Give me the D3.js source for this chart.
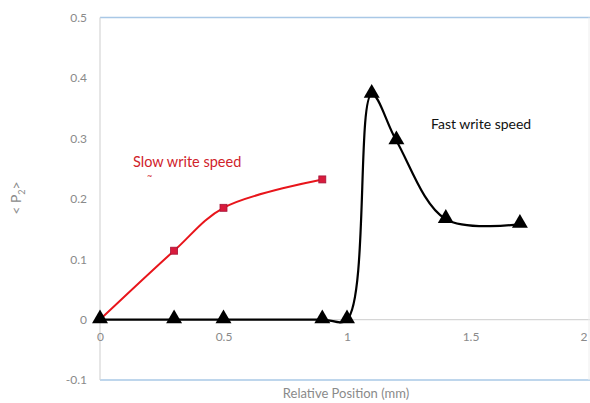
<!DOCTYPE html>
<html>
<head>
<meta charset="utf-8">
<script src="https://cdn.jsdelivr.net/npm/d3@7"></script>
<style>
  body { margin: 0; background: #fff; }
  text { font-family: Lato, "Open Sans", sans-serif; }
</style>
</head>
<body>
<div id="chart"></div>
<script>
// data
let slowX = [0, 0.3, 0.5, 0.9];
let slowY = [0, 0.114, 0.185, 0.232];
let fastX = [0, 0.3, 0.5, 0.9, 1.0, 1.1, 1.2, 1.4, 1.7];
let fastY = [0, 0, 0, 0, 0, 0.373, 0.296, 0.166, 0.158];
let yTicks = [0.5, 0.4, 0.3, 0.2, 0.1, 0, -0.1];
let xTicks = [0, 0.5, 1, 1.5, 2];

let svgWidth = 590;
let svgHeight = 403;

let svg = d3.select("#chart")
  .append("svg")
  .attr("width", svgWidth)
  .attr("height", svgHeight);

let x = d3.scaleLinear().domain([0, 2]).range([100, 594]);
let y = d3.scaleLinear().domain([-0.1, 0.5]).range([380, 17.5]);

// frame lines
svg.append("line")
  .attr("x1", 100).attr("x2", 590)
  .attr("y1", y(0.5)).attr("y2", y(0.5))
  .attr("stroke", "#a9c8e6").attr("stroke-width", 1.5);
svg.append("line")
  .attr("x1", 100).attr("x2", 590)
  .attr("y1", y(-0.1)).attr("y2", y(-0.1))
  .attr("stroke", "#a9c8e6").attr("stroke-width", 1.5);
svg.append("line")
  .attr("x1", 100).attr("x2", 590)
  .attr("y1", y(0)).attr("y2", y(0))
  .attr("stroke", "#d6d6d6").attr("stroke-width", 1.2);
svg.append("line")
  .attr("x1", 100).attr("x2", 100)
  .attr("y1", y(0.5)).attr("y2", y(-0.1))
  .attr("stroke", "#d6d6d6").attr("stroke-width", 1.2);
svg.append("line")
  .attr("x1", 589).attr("x2", 589)
  .attr("y1", y(0.5)).attr("y2", y(-0.1))
  .attr("stroke", "#eeeeee").attr("stroke-width", 1);

// tick labels
let leftAxis = d3.axisLeft(y).tickValues(yTicks).tickSize(0).tickPadding(13)
  .tickFormat(d => d === 0 ? "0" : d3.format(".1f")(d).replace("\u2212", "-"));
let yAxis = svg.append("g")
  .attr("transform", "translate(100,0)")
  .call(leftAxis);
yAxis.select(".domain").remove();
yAxis.selectAll("text").attr("fill", "#8a8a8a").style("font-size", "12px");

let bottomAxis = d3.axisBottom(x).tickValues(xTicks).tickSize(0).tickPadding(13)
  .tickFormat(d => d3.format("")(d));
let xAxis = svg.append("g")
  .attr("transform", `translate(0,${y(0)})`)
  .call(bottomAxis);
xAxis.select(".domain").remove();
xAxis.selectAll("text").attr("fill", "#8a8a8a").style("font-size", "12px");
// last label sits at the right edge; keep it inside the page
xAxis.selectAll("text").filter(d => d === 2).attr("text-anchor", "end").attr("dx", -7);

// series
let slow = slowX.map((d, i) => [d, slowY[i]]);
let fast = fastX.map((d, i) => [d, fastY[i]]);

let line = d3.line()
  .x(d => x(d[0]))
  .y(d => y(d[1]))
  .curve(d3.curveCatmullRom.alpha(0.5));

svg.append("path")
  .datum(fast)
  .attr("d", line)
  .attr("fill", "none")
  .attr("stroke", "#000")
  .attr("stroke-width", 2.2);

svg.append("path")
  .datum(slow)
  .attr("d", line)
  .attr("fill", "none")
  .attr("stroke", "#e8151b")
  .attr("stroke-width", 2);

let tri = d3.symbol().type(d3.symbolTriangle).size(110);
svg.selectAll(".tri")
  .data(fast)
  .enter()
  .append("path")
  .attr("class", "tri")
  .attr("d", tri)
  .attr("transform", d => `translate(${x(d[0])},${y(d[1]) - 1})`)
  .attr("fill", "#000");

svg.selectAll(".sq")
  .data(slow.slice(1))
  .enter()
  .append("rect")
  .attr("class", "sq")
  .attr("x", d => x(d[0]) - 3.5)
  .attr("y", d => y(d[1]) - 3.5)
  .attr("width", 7)
  .attr("height", 7)
  .attr("fill", "#d81b3c")
  .attr("stroke", "#a5153a")
  .attr("stroke-width", 0.8);

// annotations
svg.append("text")
  .attr("x", 133).attr("y", 167)
  .attr("fill", "#d0222a")
  .style("font-size", "14.5px")
  .text("Slow write speed");
svg.append("text")
  .attr("x", 147).attr("y", 179)
  .attr("fill", "#d0222a")
  .style("font-size", "9px")
  .text("~");
svg.append("text")
  .attr("x", 431).attr("y", 129)
  .attr("fill", "#111")
  .style("font-size", "14px")
  .text("Fast write speed");

// axis titles
svg.append("text")
  .attr("x", 346).attr("y", 398)
  .attr("text-anchor", "middle")
  .attr("fill", "#8a8a8a")
  .style("font-size", "13px")
  .text("Relative Position (mm)");

let yTitle = svg.append("text")
  .attr("transform", "translate(21,198) rotate(-90)")
  .attr("text-anchor", "middle")
  .attr("fill", "#8a8a8a")
  .style("font-size", "14px");
yTitle.append("tspan").text("< P");
yTitle.append("tspan").attr("dy", 4).style("font-size", "9px").text("2");
yTitle.append("tspan").attr("dy", -4).text(">");
</script>
</body>
</html>
